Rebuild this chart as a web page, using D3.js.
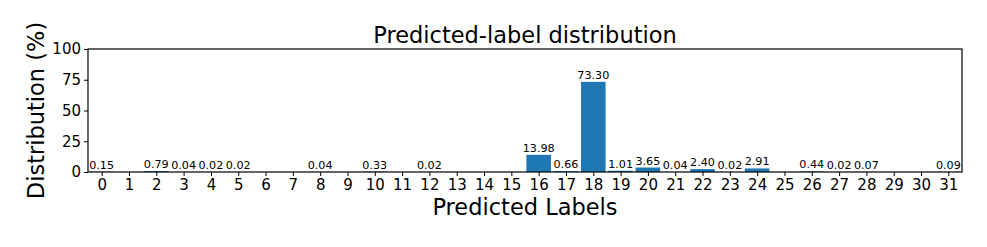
<!DOCTYPE html>
<html>
<head>
<meta charset="utf-8">
<script src="https://cdn.jsdelivr.net/npm/d3@7"></script>
<style>
  body { margin: 0; background: #fff; }
  text { font-family: "DejaVu Sans", sans-serif; fill: #000; }
</style>
</head>
<body>
<svg width="987" height="247"></svg>
<script>
// predicted label ids and their share (%)
var labels = d3.range(0, 32);
var percents = [0.15, 0, 0.79, 0.04, 0.02, 0.02, 0, 0, 0.04, 0, 0.33, 0, 0.02, 0, 0, 0,
  13.98, 0.66, 73.30, 1.01, 3.65, 0.04, 2.40, 0.02, 2.91, 0, 0.44, 0.02, 0.07, 0, 0, 0.09];
var yTicks = [0, 25, 50, 75, 100];

var svg = d3.select("svg"),
  margin = { top: 49, right: 25, bottom: 75, left: 88 },
  width = +svg.attr("width") - margin.left - margin.right,
  height = +svg.attr("height") - margin.top - margin.bottom,
  g = svg.append("g")
    .attr("transform", "translate(" + margin.left + "," + margin.top + ")");

var data = labels.map(function(l, i) { return { label: l, value: percents[i] }; });

var x = d3.scaleLinear().domain([-0.5, 31.5]).range([0, width]),
  y = d3.scaleLinear().domain([0, 100]).range([height, 0]);
var step = x(1) - x(0), barW = step * 0.9;

g.selectAll(".bar")
  .data(data)
  .enter().append("rect")
  .attr("class", "bar")
  .attr("x", function(d) { return x(d.label) - barW / 2; })
  .attr("width", barW)
  .attr("y", function(d) { return y(d.value); })
  .attr("height", function(d) { return height - y(d.value); })
  .attr("fill", "#1f77b4");

g.selectAll(".val")
  .data(data.filter(function(d) { return d.value > 0; }))
  .enter().append("text")
  .attr("class", "val")
  .attr("x", function(d) { return x(d.label); })
  .attr("y", function(d) { return y(d.value) - 3; })
  .attr("text-anchor", "middle")
  .style("font-size", "11.2px")
  .text(function(d) { return d.value.toFixed(2); });

var xAxis = g.append("g")
  .attr("transform", "translate(0," + height + ")")
  .call(d3.axisBottom(x).tickValues(labels).tickFormat(d3.format("d")).tickSizeOuter(0).tickSize(4).tickPadding(3));
xAxis.selectAll("text").style("font-size", "15px").attr("fill", "#000");

var yAxis = g.append("g")
  .call(d3.axisLeft(y).tickValues(yTicks).tickSizeOuter(0).tickSize(4).tickPadding(3));
yAxis.selectAll("text").style("font-size", "15px").attr("fill", "#000");

g.selectAll(".domain").remove();
g.append("rect")
  .attr("width", width).attr("height", height)
  .attr("fill", "none").attr("stroke", "#000").attr("stroke-width", 1.2);

svg.append("text")
  .attr("x", margin.left + width / 2).attr("y", 43)
  .attr("text-anchor", "middle").style("font-size", "22.5px")
  .text("Predicted-label distribution");

svg.append("text")
  .attr("x", margin.left + width / 2).attr("y", 215)
  .attr("text-anchor", "middle").style("font-size", "22.5px")
  .text("Predicted Labels");

svg.append("text")
  .attr("transform", "translate(44," + (margin.top + height / 2) + ") rotate(-90)")
  .attr("text-anchor", "middle").style("font-size", "22.5px")
  .text("Distribution (%)");
</script>
</body>
</html>
